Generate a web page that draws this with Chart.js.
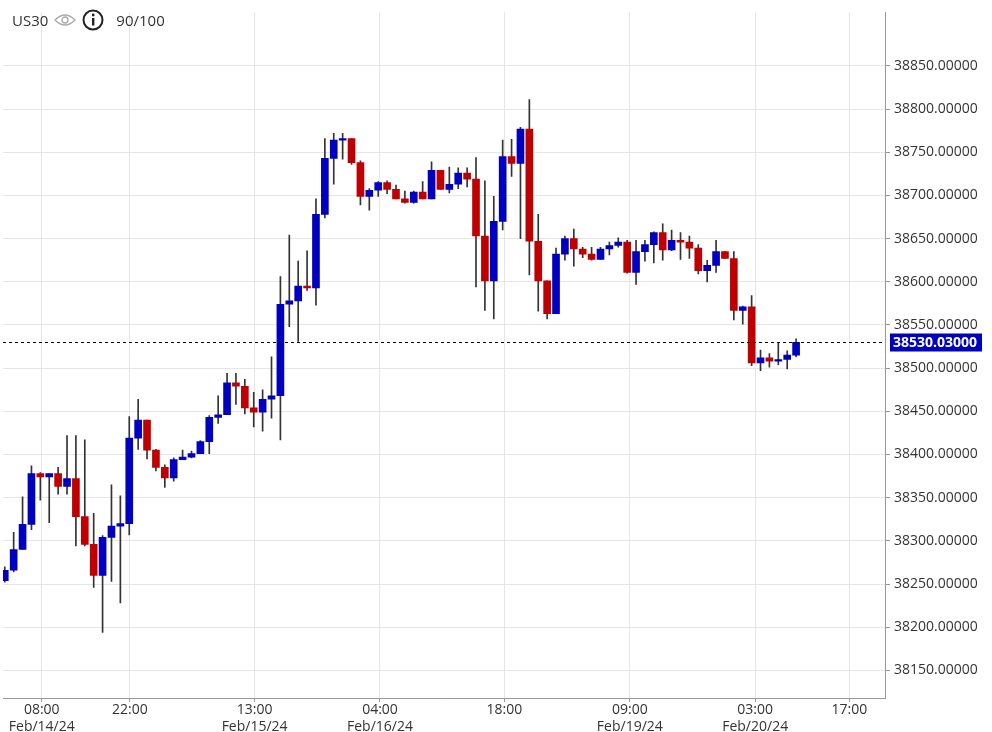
<!DOCTYPE html>
<html>
<head>
<meta charset="utf-8">
<script src="https://cdn.jsdelivr.net/npm/chart.js@4.4.1/dist/chart.umd.min.js"></script>
<style>
body{margin:0;background:#fff;font-family:"Open Sans",Arial,sans-serif;}
#wrap{position:relative;width:992px;height:732px;}
#hdr{position:absolute;left:12px;top:9px;font-size:15px;color:#333;display:flex;align-items:center;gap:6px;}
</style>
</head>
<body>
<div id="wrap">
<canvas id="c" width="992" height="732"></canvas>
<div id="hdr"><span>US30</span>
<svg width="22" height="14" viewBox="0 0 22 14"><path d="M1 7 Q11 -3 21 7 Q11 17 1 7Z" fill="none" stroke="#aaa" stroke-width="1.3"/><circle cx="11" cy="7" r="3" fill="none" stroke="#aaa" stroke-width="1.3"/></svg>
<svg width="22" height="22" viewBox="0 0 22 22"><circle cx="11" cy="11" r="9.5" fill="none" stroke="#222" stroke-width="2"/><rect x="10" y="9" width="2.4" height="7.5" fill="#222"/><circle cx="11.2" cy="6" r="1.4" fill="#222"/></svg>
<span style="margin-left:6px">90/100</span></div>
</div>
<script>
// OHLC, one entry per candle
var opens  = [38254,38266,38290,38319,38378,38374,38378,38363,38372,38328,38296,38260,38304,38317,38320,38419,38440,38405,38385,38373,
              38394,38397,38401,38415,38443,38446,38483,38479,38454,38449,38464,38468,38574,38578,38595,38593,38678,38743,38764,38766,
              38738,38699,38706,38715,38707,38696,38692,38704,38696,38729,38707,38713,38726,38719,38653,38601,38670,38745,38737,38777,
              38647,38601,38563,38632,38650,38638,38632,38626,38638,38642,38646,38611,38635,38643,38657,38637,38648,38646,38639,38613,
              38619,38635,38627,38567,38571,38506,38512,38508,38510,38515];
var closes = [38266,38290,38319,38378,38374,38378,38363,38372,38328,38296,38260,38304,38317,38320,38419,38440,38405,38385,38373,38394,
              38397,38401,38415,38443,38446,38483,38479,38454,38449,38464,38468,38574,38578,38595,38593,38678,38743,38764,38766,38738,
              38699,38706,38715,38707,38696,38692,38704,38696,38729,38707,38713,38726,38719,38653,38601,38670,38745,38737,38777,38647,
              38601,38563,38632,38650,38638,38632,38626,38638,38642,38646,38611,38635,38643,38657,38637,38648,38646,38639,38613,38619,
              38635,38627,38567,38571,38506,38512,38508,38510,38515,38530.03];
var highs  = [38270,38310,38351,38387,38379,38378,38385,38422,38422,38417,38332,38306,38365,38352,38444,38464,38440,38406,38388,38396,
              38405,38404,38416,38445,38468,38494,38494,38487,38472,38475,38513,38606,38654,38624,38636,38696,38766,38772,38772,38766,
              38740,38708,38716,38717,38712,38705,38705,38716,38739,38729,38733,38732,38732,38744,38717,38699,38764,38765,38779,38811,
              38678,38601,38639,38653,38661,38640,38640,38640,38646,38651,38648,38648,38648,38658,38667,38660,38657,38653,38643,38625,
              38648,38635,38635,38572,38584,38521,38517,38529,38520,38534];
var lows   = [38252,38264,38290,38313,38347,38321,38354,38354,38294,38294,38246,38194,38253,38228,38307,38406,38395,38381,38362,38369,
              38394,38396,38401,38401,38436,38446,38458,38447,38432,38427,38442,38417,38548,38531,38590,38573,38674,38713,38742,38736,
              38689,38683,38699,38702,38696,38691,38691,38696,38696,38707,38703,38708,38710,38594,38567,38557,38660,38722,38650,38608,
              38566,38557,38563,38625,38618,38628,38625,38626,38631,38640,38610,38597,38624,38622,38625,38636,38626,38627,38609,38600,
              38611,38627,38556,38551,38503,38497,38501,38504,38499,38513];
var tickPos    = [4.16,14.06,28.1,42.2,56.2,70.3,84.4,95.0];
var tickTimes  = ["08:00","22:00","13:00","04:00","18:00","09:00","03:00","17:00"];
var tickDates  = ["Feb/14/24","","Feb/15/24","Feb/16/24","","Feb/19/24","Feb/20/24",""];
var lastPrice = 38530.03;

var bodies = opens.map(function(o,i){ return {x:i, y:[o, closes[i]]}; });
var wicks = opens.map(function(o,i){ return {x:i, y:[lows[i], highs[i]]}; });
var colors = opens.map(function(o,i){ return closes[i] >= o ? "#0000c0" : "#c00000"; });

var lastLine = {
  id: "lastLine",
  afterDatasetsDraw: function(chart){
    var c = chart.ctx, ya = chart.scales.y, ca = chart.chartArea;
    var y = Math.round(ya.getPixelForValue(lastPrice)) + 0.5;
    c.save();
    c.setLineDash([3,3]); c.strokeStyle = "#000"; c.lineWidth = 1;
    c.beginPath(); c.moveTo(ca.left, y); c.lineTo(ca.right, y); c.stroke();
    c.setLineDash([]);
    c.fillStyle = "#0000c0"; c.fillRect(ca.right + 5, y - 9, 92, 18);
    c.fillStyle = "#fff"; c.font = "bold 14px 'Open Sans'"; c.textBaseline = "middle";
    c.fillText(lastPrice.toFixed(5), ca.right + 8, y + 1);
    c.restore();
  }
};

new Chart("c", {
  type: "bar",
  data: {
    datasets: [
      {data: bodies, backgroundColor: colors, barThickness: 7, grouped: false, order: 0, minBarLength: 1},
      {data: wicks, backgroundColor: "#333", barThickness: 1, grouped: false, order: 1}
    ]
  },
  options: {
    responsive: false,
    animation: false,
    plugins: {legend: {display: false}, tooltip: {enabled: false}},
    layout: {padding: {left: 3, top: -11}},
    scales: {
      x: {
        type: "linear", min: -0.2, max: 99, offset: false,
        afterBuildTicks: function(s){ s.ticks = tickPos.map(function(v){ return {value: v}; }); },
        afterFit: function(s){ s.height = 34; },
        ticks: {
          autoSkip: false, maxRotation: 0, color: "#333", font: {size: 14, family: "Open Sans"}, padding: 0,
          callback: function(v, i){ return tickDates[i] ? [tickTimes[i], tickDates[i]] : tickTimes[i]; }
        },
        grid: {color: "#e6e6e6", offset: false, tickLength: 4, tickColor: "#999"},
        border: {color: "#999"}
      },
      y: {
        position: "right", min: 38118, max: 38912,
        afterBuildTicks: function(s){ s.ticks = s.ticks.filter(function(t){ return t.value % 50 === 0; }); },
        afterFit: function(s){ s.width = 107; },
        ticks: {stepSize: 50, color: "#333", font: {size: 14, family: "Open Sans"}, padding: 4,
          callback: function(v){ return Number(v).toFixed(5); }},
        grid: {color: "#e6e6e6", tickLength: 5, tickColor: "#999"},
        border: {color: "#999"}
      }
    }
  },
  plugins: [lastLine]
});
</script>
</body>
</html>
